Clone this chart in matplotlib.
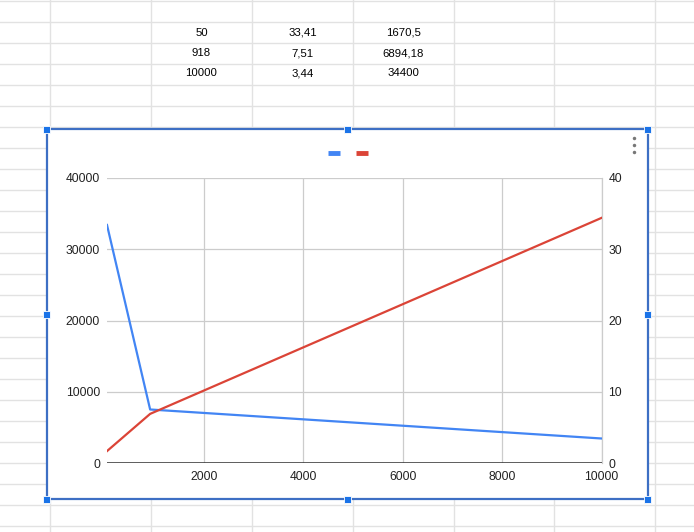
import matplotlib
matplotlib.use("Agg")
import matplotlib.pyplot as plt
from matplotlib.patches import Rectangle

plt.rcParams['font.family'] = ['Liberation Sans', 'DejaVu Sans']

# ---- data ----
x_vals = [50, 918, 10000]
blue_vals = [33.41, 7.51, 3.44]          # right axis
red_vals = [1670.5, 6894.18, 34400]      # left axis
table_col1 = ["50", "918", "10000"]
table_col2 = ["33,41", "7,51", "3,44"]
table_col3 = ["1670,5", "6894,18", "34400"]
x_ticks = [2000, 4000, 6000, 8000, 10000]
left_ticks = [0, 10000, 20000, 30000, 40000]
right_ticks = [0, 10, 20, 30, 40]

W, H = 694, 532
fig = plt.figure(figsize=(W / 100, H / 100), dpi=100)
fig.patch.set_facecolor('white')

# ---- spreadsheet background (pixel coordinates) ----
bg = fig.add_axes([0, 0, 1, 1])
bg.set_zorder(-5)
bg.set_xlim(0, W)
bg.set_ylim(H, 0)
bg.axis('off')
grid_c = '#e2e2e2'
col_x = [50, 151, 252, 353, 454, 554, 655]
for cx in col_x:
    bg.plot([cx, cx], [0, H], color=grid_c, lw=1, zorder=1)
for k in range(27):
    ry = 1 + 21 * k
    bg.plot([0, W], [ry, ry], color=grid_c, lw=1, zorder=1)

row_y = [32.5, 53, 73.5]
for i in range(3):
    bg.text(201.5, row_y[i], table_col1[i], ha='center', va='center', fontsize=8.2, color='#000')
    bg.text(302.5, row_y[i], table_col2[i], ha='center', va='center', fontsize=8.2, color='#000')
    bg.text(403.5, row_y[i], table_col3[i], ha='center', va='center', fontsize=8.2, color='#000')

# chart box
cl, ct, cr, cb = 47, 129, 648, 499
bg.add_patch(Rectangle((cl, ct), cr - cl, cb - ct, facecolor='white',
                       edgecolor='#3d6fc4', lw=1.6, zorder=3))
hs = 7
for hx in [cl, (cl + cr) / 2, cr]:
    for hy in [ct, (ct + cb) / 2, cb]:
        if hx == (cl + cr) / 2 and hy == (ct + cb) / 2:
            continue
        bg.add_patch(Rectangle((hx - hs / 2, hy - hs / 2), hs, hs,
                               facecolor='#1a73e8', edgecolor='white', lw=0.6, zorder=5))

# legend marks
bg.plot([328, 340], [153, 153], color='#4285F4', lw=3.5, solid_capstyle='butt', zorder=4)
bg.plot([356, 368], [153, 153], color='#DB4437', lw=3.5, solid_capstyle='butt', zorder=4)
# kebab menu dots
for dy in [137.5, 144.5, 151.5]:
    bg.plot([634], [dy], marker='o', ms=2.5, mew=0, color='#777777', zorder=4)

# ---- chart ----
px_l, px_r, px_t, px_b = 107, 601.5, 178, 463
rect = [px_l / W, (H - px_b) / H, (px_r - px_l) / W, (px_b - px_t) / H]
ax = fig.add_axes(rect)
ax.set_facecolor('none')
ax.set_xlim(50, 10000)
ax.set_ylim(0, 40000)
ax2 = ax.twinx()
ax2.set_ylim(0, 40)
ax3 = ax.twinx()
ax3.set_ylim(0, 40000)
ax3.set_yticks([])

for a in (ax, ax2, ax3):
    for s in a.spines.values():
        s.set_visible(False)
    a.tick_params(length=0, labelsize=8.7, labelcolor='#222')
    a.patch.set_visible(False)

ax.set_xticks(x_ticks)
ax.set_xticklabels([str(t) for t in x_ticks])
ax.set_yticks(left_ticks)
ax.set_yticklabels([str(t) for t in left_ticks])
ax2.set_yticks(right_ticks)
ax2.set_yticklabels([str(t) for t in right_ticks])
ax.tick_params(axis='x', pad=6)
ax.tick_params(axis='y', pad=5)
ax2.tick_params(axis='y', pad=5)

ax.grid(True, color='#cccccc', lw=0.9)
ax.set_axisbelow(True)
ax.axvline(x_ticks[-1], color='#cccccc', lw=0.9, clip_on=False, zorder=0.5)
ax.axhline(0, color='#333333', lw=1.1, zorder=2)

ax.set_zorder(1)
ax2.set_zorder(2)
ax3.set_zorder(3)
ax2.plot(x_vals, blue_vals, color='#4285F4', lw=1.6)
ax3.plot(x_vals, red_vals, color='#DB4437', lw=1.6)

fig.savefig('out.png', dpi=100, facecolor='white')
